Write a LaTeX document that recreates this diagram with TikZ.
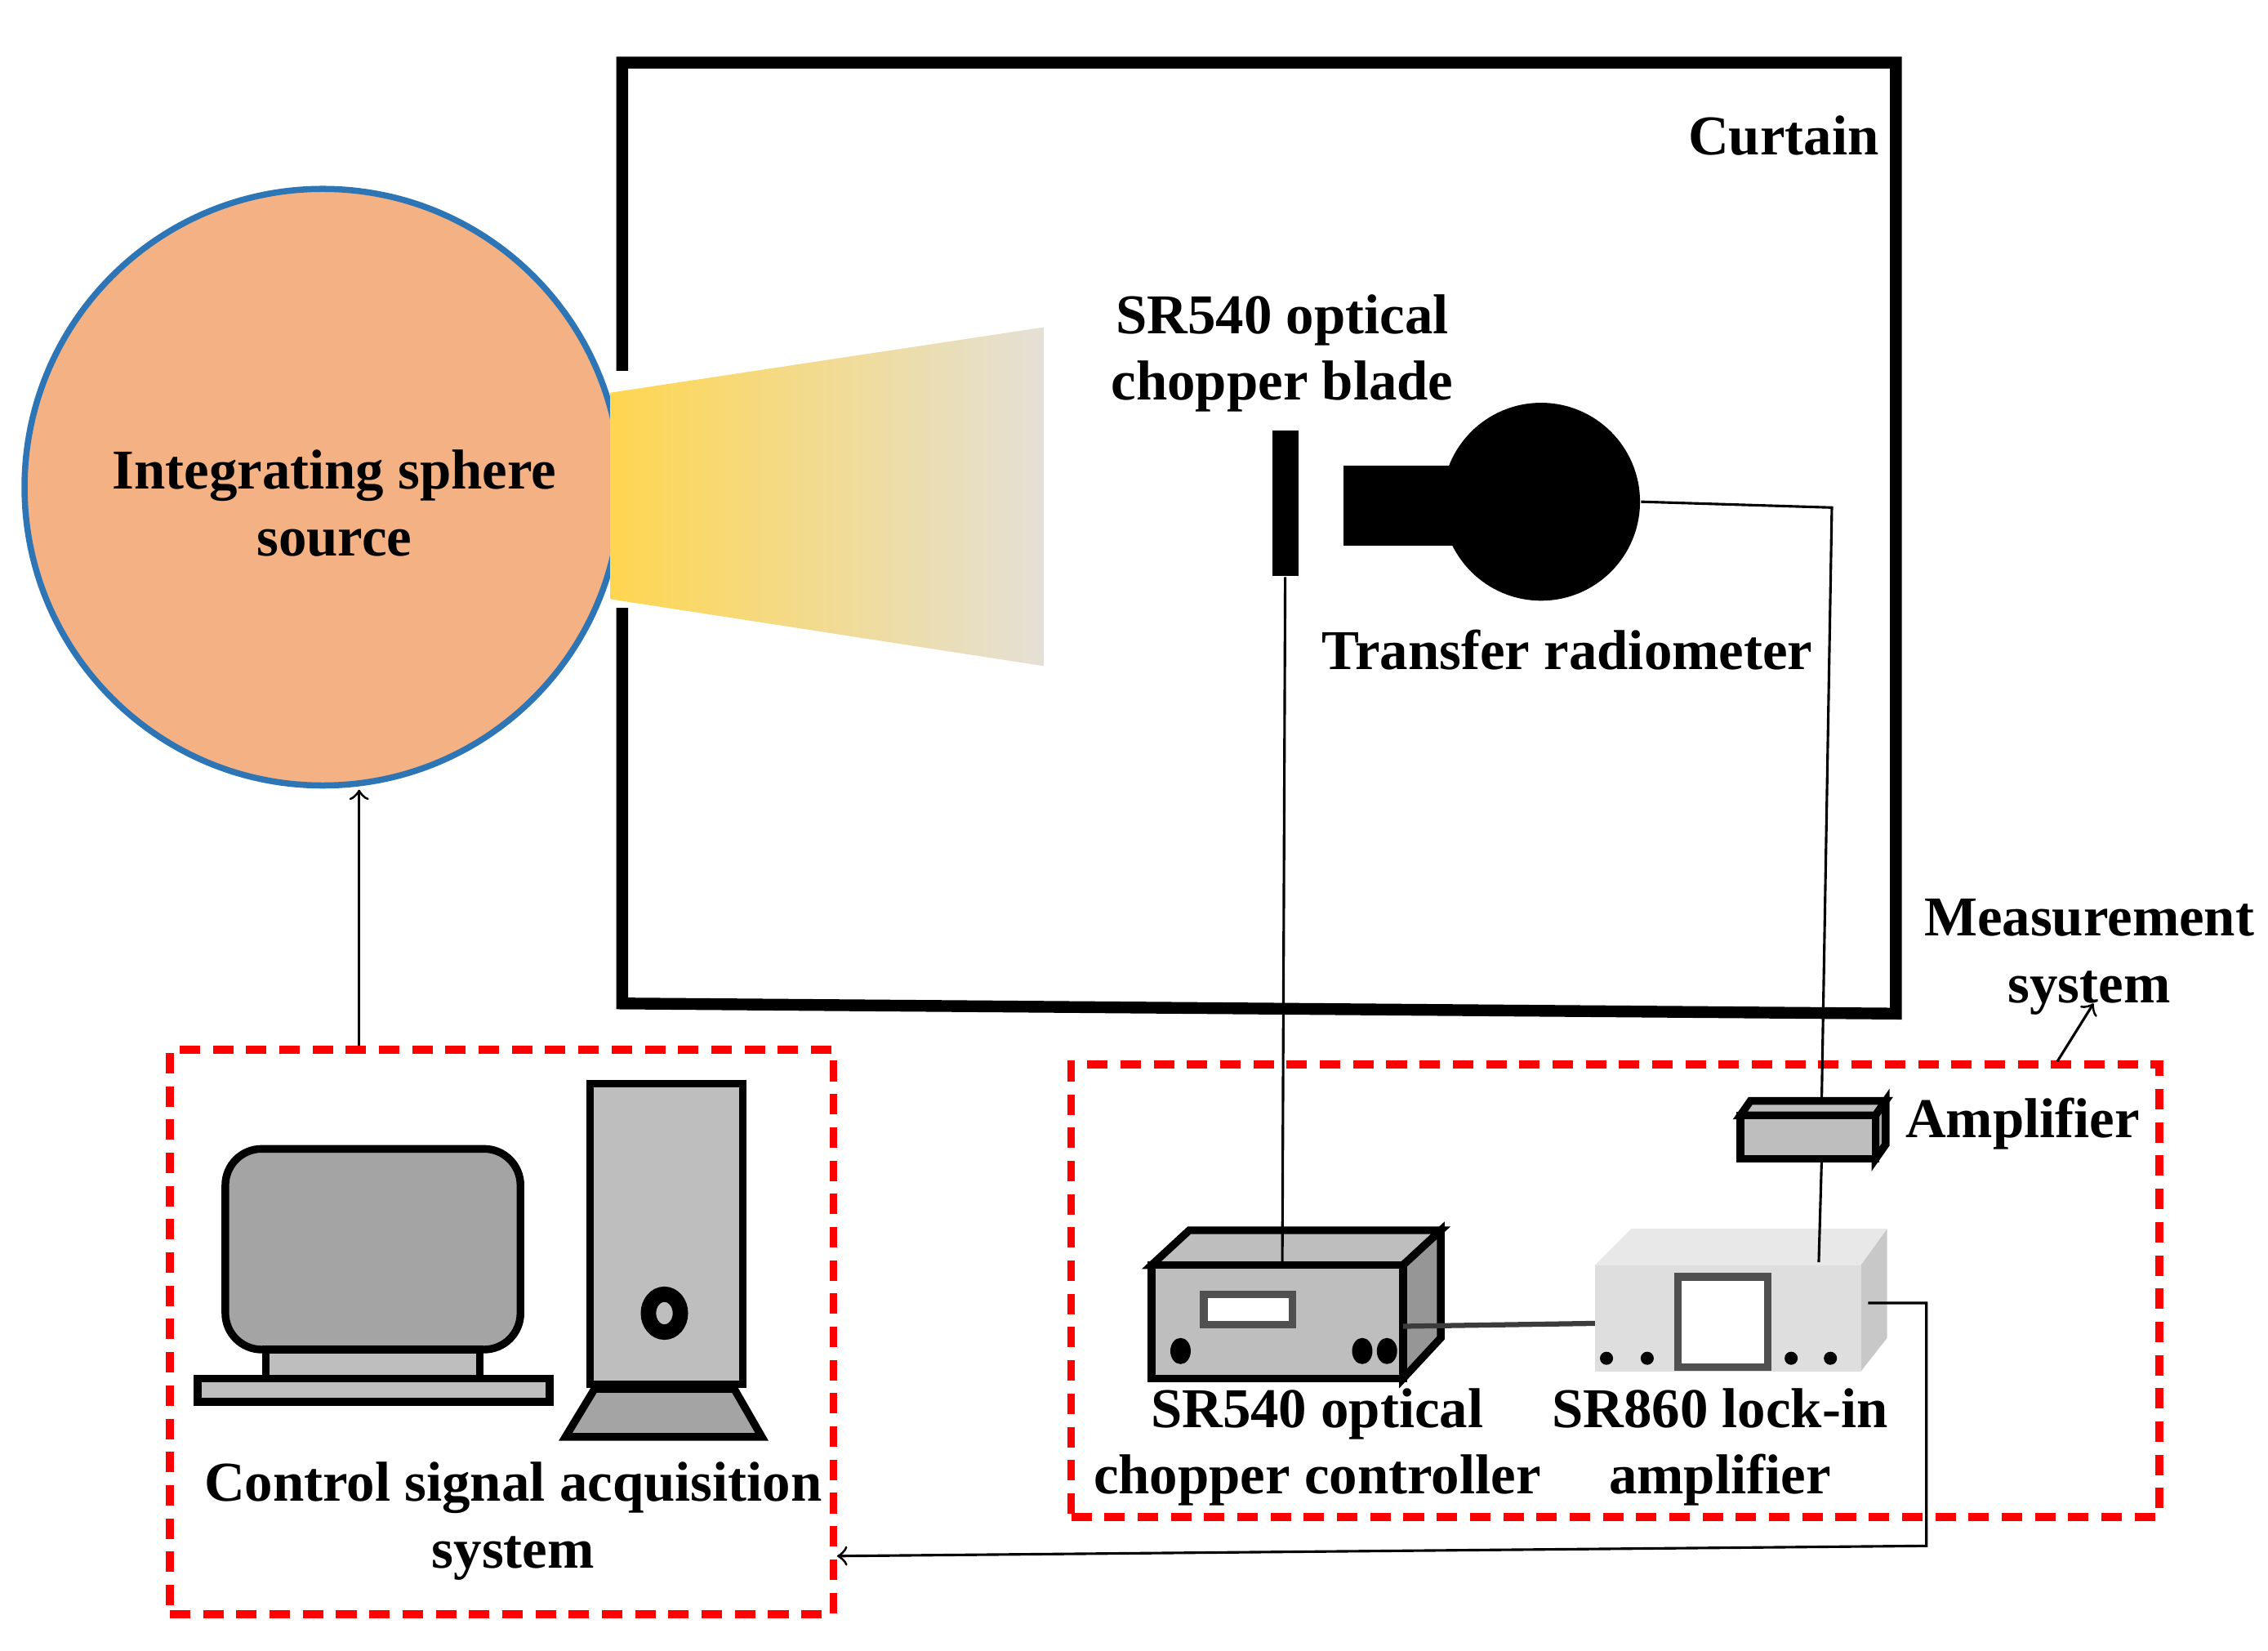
\documentclass[tikz,border=0pt]{standalone}
\usepackage{fontspec}
\setmainfont{Liberation Serif}
\definecolor{sphfill}{RGB}{244,177,131}
\definecolor{sphedge}{RGB}{46,117,182}
\definecolor{beamL}{RGB}{255,214,80}
\definecolor{beamR}{RGB}{228,224,214}
\definecolor{g1}{RGB}{164,164,164}
\definecolor{g2}{RGB}{190,190,190}
\definecolor{g3}{RGB}{150,150,150}
\definecolor{g4}{RGB}{170,170,170}
\definecolor{dk}{RGB}{80,80,80}
\definecolor{l1}{RGB}{232,232,232}
\definecolor{l2}{RGB}{200,200,200}
\definecolor{l3}{RGB}{222,222,222}
\definecolor{wire}{RGB}{60,60,60}
\begin{document}
\begin{tikzpicture}[x=0.01cm,y=-0.01cm,
 lbl/.style={font=\bfseries\fontsize{11}{13}\selectfont,align=center,inner sep=0},
 thin/.style={line width=0.5pt},
 dev/.style={draw=black,line width=1.5pt},
 redbox/.style={draw=red,line width=1.5pt,dash pattern=on 4pt off 2.5pt}]
\useasboundingbox (0,0) rectangle (1560,1135);
% sphere
\node[circle,minimum size=4.1cm,fill=sphfill,draw=sphedge,line width=1.2pt,inner sep=0] (sph) at (222,335) {};
\node[lbl] (sphl) at (230,346) {Integrating sphere\\source};
% beam
\shade[left color=beamL,right color=beamR] (420,270) -- (718,225) -- (718,458) -- (420,412) -- cycle;
% curtain
\draw[line width=2.3pt] (428,255) -- (428,43) -- (1304,43) -- (1304,697) -- (428,690) -- (428,418);
\node[lbl,anchor=east] (cur) at (1293,93) {Curtain};
% chopper blade
\node[fill=black,minimum width=0.18cm,minimum height=1cm,inner sep=0] (blade) at (884,346) {};
\node[lbl] (bladel) at (882,243) {SR540 optical\\chopper blade};
% radiometer
\fill (924,320) rectangle (1010,375);
\node[circle,fill=black,minimum size=1.36cm,inner sep=0] (rad) at (1060,345) {};
\node[lbl] (radl) at (1078,447) {Transfer radiometer};
% red boxes
\node[redbox,minimum width=4.56cm,minimum height=3.88cm] (ctrlbox) at (345,916) {};
\node[redbox,minimum width=7.48cm,minimum height=3.11cm] (measbox) at (1111,887.5) {};
% monitor
\draw[dev,fill=g1,rounded corners=0.25cm] (155,790) rectangle (358,928);
\draw[dev,fill=g2] (183,928) rectangle (330,948);
\draw[dev,fill=g2] (136,948) rectangle (378,964);
% tower
\draw[dev,fill=g2] (406,745) rectangle (511,952);
\draw[line width=3pt,fill=g2] (457,903) ellipse (0.11cm and 0.13cm);
\draw[dev,fill=g1] (409,955) -- (505,955) -- (524,988) -- (389,988) -- cycle;
\node[lbl] (ctrll) at (353,1046) {Control signal acquisition\\system};
% amplifier
\draw[dev,fill=g2] (1197,767) -- (1204,757) -- (1297,757) -- (1290,767) -- cycle;
\draw[dev,fill=g4] (1290,767) -- (1297,757) -- (1297,787) -- (1290,797) -- cycle;
\draw[dev,fill=g2] (1197,767) rectangle (1290,797);
\coordinate (ampT) at (1253,757);
\coordinate (ampB) at (1253,797);
\node[lbl,anchor=west] (ampl) at (1310,773) {Amplifier};
% controller
\draw[dev,fill=g2] (792,870) -- (818,846) -- (991,846) -- (965,870) -- cycle;
\draw[dev,fill=g3] (965,870) -- (991,846) -- (991,920) -- (965,948) -- cycle;
\draw[dev,fill=g2] (792,870) rectangle (965,948);
\draw[line width=1.5pt,draw=dk,fill=white] (828,890) rectangle (889,911);
\fill (812,929) ellipse (0.07cm and 0.09cm) (937,929) ellipse (0.07cm and 0.09cm) (954,929) ellipse (0.07cm and 0.09cm);
\coordinate (conT) at (882,870);
\coordinate (conR) at (965,912);
\node[lbl] (conl) at (906,995) {SR540 optical\\chopper controller};
% lock-in
\fill[l1] (1097,870) -- (1122,845) -- (1298,845) -- (1280,870) -- cycle;
\fill[l2] (1280,870) -- (1298,845) -- (1298,920) -- (1280,943) -- cycle;
\fill[l3] (1097,870) rectangle (1280,943);
\draw[line width=1.5pt,draw=dk,fill=white] (1154,878) rectangle (1216,940);
\fill (1105,934) circle (0.045cm) (1133,934) circle (0.045cm) (1232,934) circle (0.045cm) (1259,934) circle (0.045cm);
\coordinate (lkT) at (1251,868);
\coordinate (lkL) at (1097,910);
\coordinate (lkR) at (1285,896);
\node[lbl] (lkl) at (1183,995) {SR860 lock-in\\amplifier};
\node[lbl] (measl) at (1437,658) {Measurement\\system};
% connectors
\draw[thin] (blade.south) -- (conT);
\draw[thin] (rad.east) -- (1260,349) -- (ampT);
\draw[thin] (ampB) -- (lkT);
\draw[line width=1pt,draw=wire] (conR) -- (lkL);
\draw[thin,->] (lkR) -- (1325,896) -- (1325,1063) -- (ctrlbox.east |- 0,1070);
\draw[thin,->] (ctrlbox.north -| 247,0) -- (247,543);
\draw[thin,->] (1415,730) -- (1440,690);
\end{tikzpicture}
\end{document}
